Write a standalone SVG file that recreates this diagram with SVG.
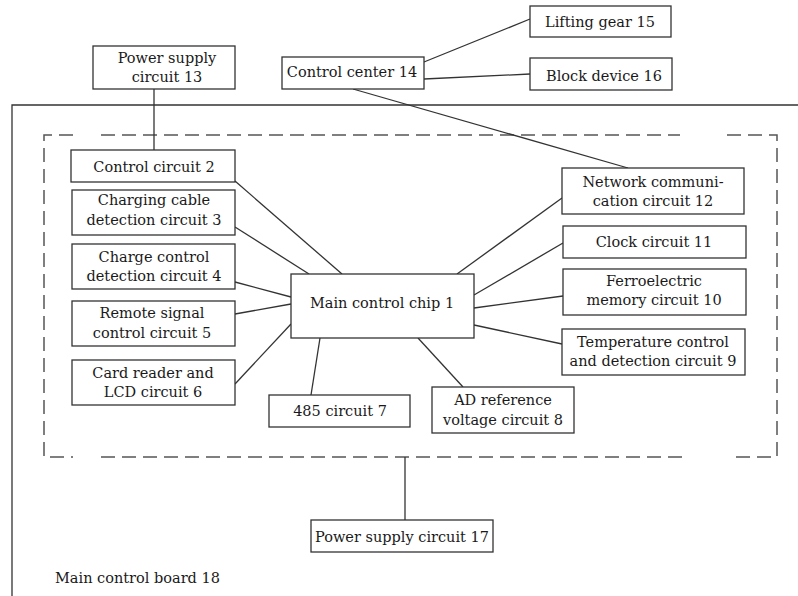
<svg xmlns="http://www.w3.org/2000/svg" width="798" height="596" viewBox="0 0 798 596">
<style>
  rect.n { fill: #fff; stroke: #333; stroke-width: 1.3; }
  text { font-family: "DejaVu Serif", "Liberation Serif", serif; font-size: 14.5px; fill: #1a1a1a; text-anchor: middle; }
  .c line { stroke: #333; stroke-width: 1.3; }
  .dash { fill: none; stroke: #555; stroke-width: 1.5; stroke-dasharray: 14 7; }
  .board { fill: none; stroke: #333; stroke-width: 1.3; }
</style>
<rect width="798" height="596" fill="#fff"/>
<g id="board18">
  <path class="board" d="M798,105 H12 V600"/>
  <text x="55" y="583" style="text-anchor:start">Main control board 18</text>
</g>
<g id="dashed-region">
  <path class="dash" d="M73,135 H44 V457 H73"/>
  <path class="dash" d="M101,135 H680"/>
  <path class="dash" d="M727,135 H777 V457 H729"/>
  <path class="dash" d="M101,457 H683"/>
</g>
<g class="c" id="connectors">
  <line x1="424" y1="62" x2="530" y2="19"/>
  <line x1="424" y1="79" x2="530" y2="74"/>
  <line x1="353" y1="89" x2="628" y2="168"/>
  <line x1="154" y1="89" x2="154" y2="150"/>
  <line x1="235" y1="181" x2="342" y2="274"/>
  <line x1="235" y1="227" x2="309" y2="274"/>
  <line x1="235" y1="282" x2="291" y2="297"/>
  <line x1="235" y1="314" x2="291" y2="304"/>
  <line x1="235" y1="384" x2="291" y2="324"/>
  <line x1="320" y1="338" x2="311" y2="395"/>
  <line x1="418" y1="338" x2="463" y2="387"/>
  <line x1="474" y1="325" x2="562" y2="344"/>
  <line x1="474" y1="308" x2="563" y2="296"/>
  <line x1="474" y1="295" x2="563" y2="243"/>
  <line x1="457" y1="274" x2="562" y2="198"/>
  <line x1="405" y1="457" x2="405" y2="520"/>
</g>
<g id="n13"><rect class="n" x="93" y="46" width="142" height="43"/><text x="167" y="63">Power supply</text><text x="167" y="82">circuit 13</text></g>
<g id="n14"><rect class="n" x="282" y="57" width="142" height="32"/><text x="352" y="77">Control center 14</text></g>
<g id="n15"><rect class="n" x="530" y="6" width="141" height="31"/><text x="600" y="27">Lifting gear 15</text></g>
<g id="n16"><rect class="n" x="530" y="58" width="142" height="32"/><text x="604" y="81">Block device 16</text></g>
<g id="n2"><rect class="n" x="71" y="150" width="164" height="32"/><text x="154" y="172">Control circuit 2</text></g>
<g id="n3"><rect class="n" x="72" y="190" width="163" height="45"/><text x="154" y="205">Charging cable</text><text x="154" y="225">detection circuit 3</text></g>
<g id="n4"><rect class="n" x="72" y="244" width="163" height="45"/><text x="154" y="262">Charge control</text><text x="154" y="281">detection circuit 4</text></g>
<g id="n5"><rect class="n" x="72" y="301" width="163" height="45"/><text x="152" y="318">Remote signal</text><text x="152" y="338">control circuit 5</text></g>
<g id="n6"><rect class="n" x="72" y="360" width="163" height="45"/><text x="153" y="378">Card reader and</text><text x="153" y="397">LCD circuit 6</text></g>
<g id="n1"><rect class="n" x="291" y="274" width="183" height="64"/><text x="382" y="308">Main control chip 1</text></g>
<g id="n7"><rect class="n" x="269" y="395" width="141" height="32"/><text x="340" y="416">485 circuit 7</text></g>
<g id="n8"><rect class="n" x="432" y="387" width="142" height="46"/><text x="503" y="405">AD reference</text><text x="503" y="425">voltage circuit 8</text></g>
<g id="n12"><rect class="n" x="562" y="168" width="182" height="46"/><text x="653" y="187">Network communi-</text><text x="653" y="206">cation circuit 12</text></g>
<g id="n11"><rect class="n" x="563" y="226" width="183" height="32"/><text x="654" y="247">Clock circuit 11</text></g>
<g id="n10"><rect class="n" x="563" y="269" width="183" height="46"/><text x="654" y="286">Ferroelectric</text><text x="654" y="305">memory circuit 10</text></g>
<g id="n9"><rect class="n" x="562" y="329" width="183" height="46"/><text x="653" y="347">Temperature control</text><text x="653" y="366">and detection circuit 9</text></g>
<g id="n17"><rect class="n" x="311" y="520" width="182" height="32"/><text x="402" y="542">Power supply circuit 17</text></g>
</svg>
